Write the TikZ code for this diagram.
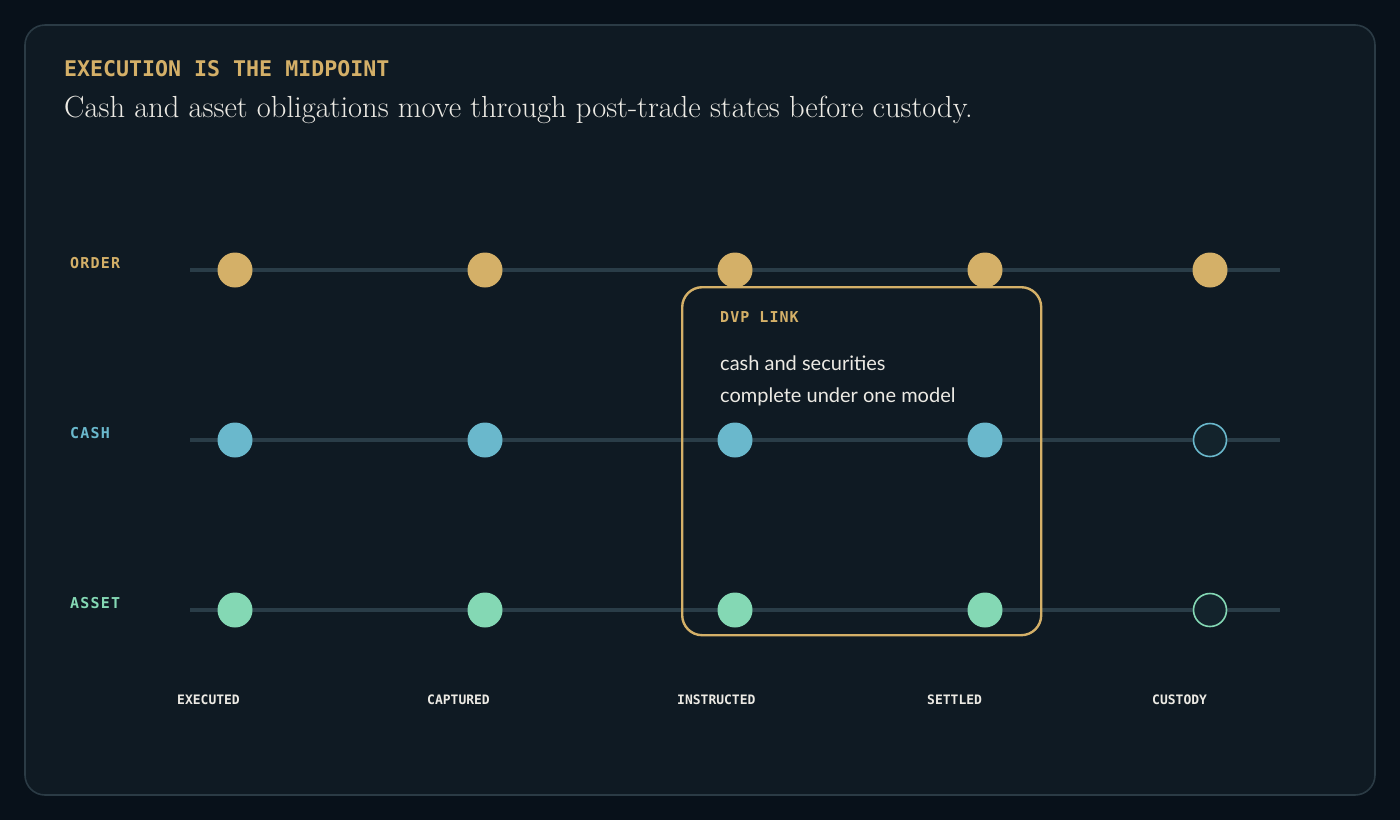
\documentclass[tikz,border=0pt]{standalone}
\usepackage{fontspec}
\newfontfamily\monofont{DejaVu Sans Mono}
\newfontfamily\bodyfont{Lato}
\definecolor{pagebg}{HTML}{08111A}
\definecolor{panelbg}{HTML}{0F1A23}
\definecolor{panelrule}{HTML}{2B3B45}
\definecolor{trackgrey}{HTML}{2A3D48}
\definecolor{ordergold}{HTML}{D4B068}
\definecolor{cashblue}{HTML}{6AB8CC}
\definecolor{assetgreen}{HTML}{84D8B4}
\definecolor{hollowfill}{HTML}{13232C}
\definecolor{inkwhite}{HTML}{ECEAE4}
\tikzset{
  rowlabel/.style={anchor=base west, inner sep=0pt,
    font=\monofont\bfseries\fontsize{15}{18}\selectfont\addfontfeature{LetterSpace=8}},
  collabel/.style={anchor=base west, inner sep=0pt, text=inkwhite,
    font=\monofont\bfseries\fontsize{13}{16}\selectfont},
  notetext/.style={anchor=base west, inner sep=0pt, text=inkwhite,
    font=\bodyfont\fontsize{20}{24}\selectfont},
  track/.style={trackgrey, line width=4pt},
  dot/.style={circle, inner sep=0pt, minimum size=35pt, fill=#1},
  hollowdot/.style={circle, inner sep=0pt, minimum size=33pt, fill=hollowfill, draw=#1, line width=1.6pt},
}
\begin{document}
\begin{tikzpicture}[x=1pt,y=-1pt]
  \useasboundingbox (0,0) rectangle (1400,820);
  \fill[pagebg] (0,0) rectangle (1400,820);
  \draw[panelrule, fill=panelbg, line width=1.6pt, rounded corners=20pt] (25,25) rectangle (1375,795);

  % heading
  \node[anchor=base west, inner sep=0pt, text=ordergold,
    font=\monofont\bfseries\fontsize{21.6}{26}\selectfont] (kicker) at (64,76) {EXECUTION IS THE MIDPOINT};
  \node[anchor=base west, inner sep=0pt, text=inkwhite,
    font=\fontsize{30.5}{36}\selectfont] (headline) at (64,117) {Cash and asset obligations move through post-trade states before custody.};

  % rows
  \node[rowlabel, text=ordergold] (orderlbl) at (70,268) {ORDER};
  \node[rowlabel, text=cashblue] (cashlbl) at (70,438) {CASH};
  \node[rowlabel, text=assetgreen] (assetlbl) at (70,608) {ASSET};

  \foreach \row/\y in {order/270, cash/440, asset/610} {
    \coordinate (\row-start) at (190,\y);
    \coordinate (\row-end) at (1280,\y);
    \draw[track] (\row-start) -- (\row-end);
  }

  \foreach \row/\y/\tone in {order/270/ordergold, cash/440/cashblue, asset/610/assetgreen} {
    \node[dot=\tone] (\row-executed) at (235,\y) {};
    \node[dot=\tone] (\row-captured) at (485,\y) {};
    \node[dot=\tone] (\row-instructed) at (735,\y) {};
    \node[dot=\tone] (\row-settled) at (985,\y) {};
  }
  \node[dot=ordergold] (order-custody) at (1210,270) {};
  \node[hollowdot=cashblue] (cash-custody) at (1210,440) {};
  \node[hollowdot=assetgreen] (asset-custody) at (1210,610) {};

  % dvp window
  \node[draw=ordergold, line width=2.4pt, rounded corners=20pt, anchor=north west,
    minimum width=359pt, minimum height=348pt, inner sep=0pt] (dvp) at (681,286) {};
  \node[anchor=base west, inner sep=0pt, text=ordergold,
    font=\monofont\bfseries\fontsize{15}{18}\selectfont\addfontfeature{LetterSpace=7}] (dvptitle) at (720,322) {DVP LINK};
  \node[notetext] (dvpnote1) at (720,370) {cash and securities};
  \node[notetext] (dvpnote2) at (720,402) {complete under one model};

  % columns
  \node[collabel] (executed) at (177,704) {EXECUTED};
  \node[collabel] (captured) at (427,704) {CAPTURED};
  \node[collabel] (instructed) at (677,704) {INSTRUCTED};
  \node[collabel] (settled) at (927,704) {SETTLED};
  \node[collabel] (custody) at (1152,704) {CUSTODY};
\end{tikzpicture}
\end{document}
